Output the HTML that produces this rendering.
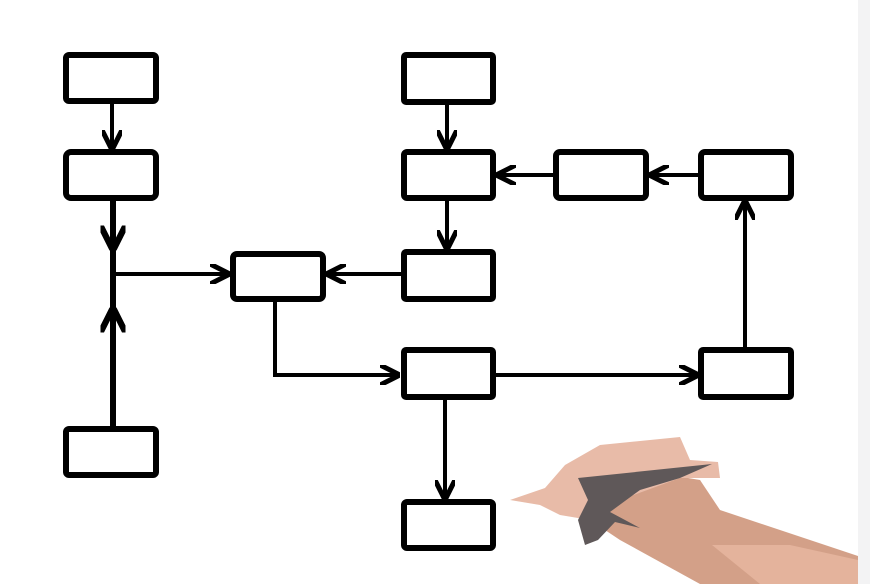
<!DOCTYPE html>
<html><head><style>
html,body{margin:0;padding:0;background:#fff;}
svg{display:block;}
</style></head><body>
<svg width="870" height="584" viewBox="0 0 870 584" xmlns="http://www.w3.org/2000/svg">
<rect x="0" y="0" width="870" height="584" fill="#fff"/>
<rect x="858" y="0" width="12" height="584" fill="#f3f3f4"/>
<defs>
<marker id="ah" viewBox="0 0 10 10" refX="9" refY="5" markerWidth="5" markerHeight="5" orient="auto">
<path d="M0,0 L10,5 L0,10" fill="none" stroke="#000" stroke-width="2.5"/>
</marker>
</defs>
<g stroke="#000" stroke-width="4" fill="none">
<line x1="112" y1="102" x2="112" y2="148" marker-end="url(#ah)"/>
<line x1="113" y1="199" x2="113" y2="427" stroke-width="6"/>
<line x1="113" y1="215" x2="113" y2="248" stroke-width="5" marker-end="url(#ah)"/>
<line x1="113" y1="360" x2="113" y2="310" stroke-width="5" marker-end="url(#ah)"/>
<line x1="113" y1="274" x2="228" y2="274" marker-end="url(#ah)"/>
<line x1="402" y1="274" x2="328" y2="274" marker-end="url(#ah)"/>
<polyline points="275,300 275,375 398,375" marker-end="url(#ah)"/>
<line x1="447" y1="103" x2="447" y2="148" marker-end="url(#ah)"/>
<line x1="447" y1="199" x2="447" y2="248" marker-end="url(#ah)"/>
<line x1="554" y1="175" x2="498" y2="175" marker-end="url(#ah)"/>
<line x1="699" y1="175" x2="651" y2="175" marker-end="url(#ah)"/>
<line x1="745" y1="348" x2="745" y2="202" marker-end="url(#ah)"/>
<line x1="495" y1="375" x2="697" y2="375" marker-end="url(#ah)"/>
<line x1="445" y1="398" x2="445" y2="498" marker-end="url(#ah)"/>
</g>
<g stroke="#000" stroke-width="6" fill="#fff">
<rect x="66" y="55" width="90" height="46" rx="3"/>
<rect x="66" y="152" width="90" height="46" rx="5"/>
<rect x="66" y="429" width="90" height="46" rx="3"/>
<rect x="233" y="254" width="90" height="45" rx="4"/>
<rect x="404" y="55" width="89" height="47" rx="2"/>
<rect x="404" y="152" width="89" height="46" rx="3"/>
<rect x="556" y="152" width="90" height="46" rx="4"/>
<rect x="701" y="152" width="90" height="46" rx="4"/>
<rect x="404" y="252" width="89" height="47" rx="2"/>
<rect x="404" y="350" width="89" height="47" rx="2"/>
<rect x="701" y="350" width="90" height="47" rx="2"/>
<rect x="404" y="502" width="89" height="46" rx="3"/>
</g>
<g stroke="none">
<path d="M700,584 L720,530 L700,480 L640,470 L600,490 L590,520 L620,540 L700,584 Z" fill="#d3a088"/>
<path d="M700,584 L858,584 L858,556 L780,530 L720,510 L700,480 Z" fill="#d3a088"/>
<path d="M712,545 L790,545 L858,560 L858,584 L760,584 Z" fill="#e4b39c"/>
<path d="M510,500 L545,488 L565,465 L600,445 L680,437 L690,460 L718,462 L720,478 L680,478 L620,500 L590,520 L560,515 L540,505 Z" fill="#e8bba8"/>
<path d="M578,478 L712,464 L680,478 L640,490 L610,512 L640,528 L615,522 L598,540 L585,545 L578,520 L588,500 Z" fill="#5f5859"/>
</g>
</svg>
</body></html>
